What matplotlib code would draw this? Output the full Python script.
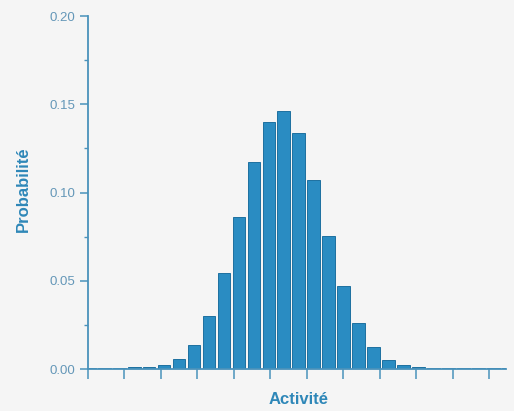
import matplotlib.pyplot as plt
import numpy as np

# bin index (classes d'activité) and probability per bin
activite = np.arange(29)
probabilite = [0.0006, 0.0006, 0.0007, 0.0010, 0.0010, 0.0023, 0.0055, 0.0136,
               0.0300, 0.0546, 0.0863, 0.1175, 0.1401, 0.1462, 0.1335, 0.1071,
               0.0755, 0.0470, 0.0259, 0.0123, 0.0051, 0.0024, 0.0010, 0.0008,
               0.0008, 0.0006, 0.0006, 0.0006, 0.0005]
y_ticks = [0.00, 0.05, 0.10, 0.15, 0.20]

bg = "#f5f5f5"
bar_col = "#2a8cc2"
edge_col = "#1d70a0"
axis_col = "#4a92bb"
tick_text = "#6497b8"
label_col = "#2e87b8"

fig = plt.figure(figsize=(5.14, 4.11), dpi=100, facecolor=bg)
ax = fig.add_axes([0.171, 0.102, 0.813, 0.859])
ax.set_facecolor(bg)

ax.bar(activite, probabilite, width=0.86, color=bar_col, edgecolor=edge_col, linewidth=0.7)

ax.set_xlim(-0.08, 27.8)
ax.set_ylim(0, 0.20)

ax.set_yticks(y_ticks)
ax.set_yticklabels(["%.2f" % v for v in y_ticks])
ax.set_yticks(np.arange(0.025, 0.2, 0.05), minor=True)
ax.set_xticks(-0.08 + 2.435 * np.arange(12))
ax.set_xticklabels([])

for s in ["top", "right"]:
    ax.spines[s].set_visible(False)
for s in ["left", "bottom"]:
    ax.spines[s].set_color(axis_col)
    ax.spines[s].set_linewidth(1.3)

ax.tick_params(axis="y", which="major", length=6, width=1.1, color=axis_col,
               labelcolor=tick_text, labelsize=9.5, pad=3)
ax.tick_params(axis="y", which="minor", length=3, width=1.0, color=axis_col)
ax.tick_params(axis="x", which="major", length=7, width=1.1, color=axis_col)

ax.set_ylabel("Probabilité", fontsize=12, fontweight="bold", color=label_col,
              fontfamily="Liberation Sans")
ax.yaxis.set_label_coords(-0.136, 0.51)
ax.set_xlabel("Activité", fontsize=12, fontweight="bold", color=label_col,
              fontfamily="Liberation Sans")
ax.xaxis.set_label_coords(0.505, -0.066)

for t in ax.get_yticklabels():
    t.set_fontfamily("Liberation Sans")

fig.savefig("out.png", dpi=100, facecolor=bg)
